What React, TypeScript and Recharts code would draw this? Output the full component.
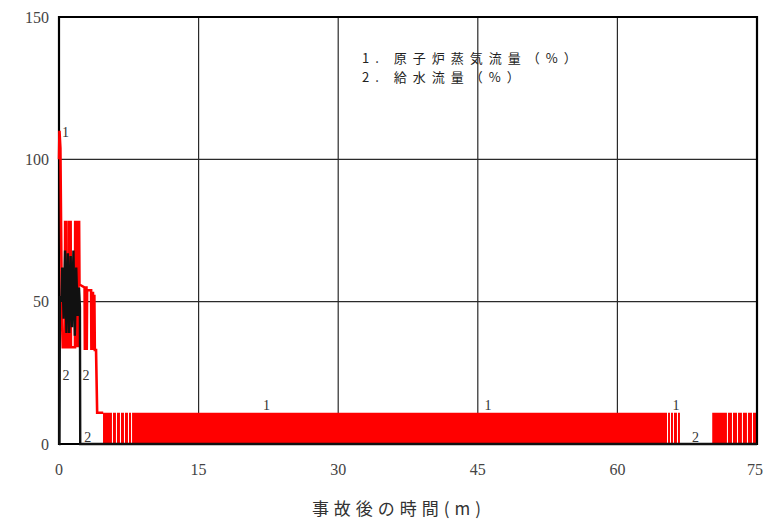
import React from 'react';
import {
  ComposedChart, Line, Area, XAxis, YAxis, CartesianGrid, ReferenceArea, ReferenceDot, Label,
} from 'recharts';

// 1. 原子炉蒸気流量 (%) – early transient (time in minutes, value in %)
const steamEarly = [
  { t: 0, v: 100 }, { t: 0.05, v: 110 }, { t: 0.15, v: 104 }, { t: 0.3, v: 48 }, { t: 0.4, v: 34 },
  { t: 0.64, v: 34 }, { t: 0.66, v: 78 }, { t: 0.8, v: 78 }, { t: 0.83, v: 34 },
  { t: 1.08, v: 34 }, { t: 1.1, v: 78 }, { t: 1.25, v: 78 }, { t: 1.28, v: 34 },
  { t: 1.72, v: 34 }, { t: 1.74, v: 78 }, { t: 1.82, v: 78 }, { t: 1.85, v: 34 },
  { t: 1.9, v: 78 }, { t: 1.97, v: 34 }, { t: 2.02, v: 78 }, { t: 2.08, v: 34 },
  { t: 2.1, v: 78 }, { t: 2.16, v: 78 }, { t: 2.2, v: 56 },
  { t: 2.75, v: 55 }, { t: 2.78, v: 33 }, { t: 2.82, v: 55 }, { t: 2.95, v: 55 },
  { t: 2.98, v: 33 }, { t: 3.02, v: 54 }, { t: 3.45, v: 54 }, { t: 3.48, v: 33 },
  { t: 3.52, v: 53 }, { t: 3.65, v: 53 }, { t: 3.68, v: 33 }, { t: 3.72, v: 52 },
  { t: 3.8, v: 52 }, { t: 3.85, v: 33 }, { t: 3.98, v: 33 }, { t: 4.1, v: 11 }, { t: 4.75, v: 11 },
];

// 1. 原子炉蒸気流量 (%) – dense cycling band (0 = white gap between cycles)
const steamBand = [
  { t: 4.73, v: 11 }, { t: 5.69, v: 0 }, { t: 5.8, v: 11 }, { t: 6.12, v: 0 }, { t: 6.23, v: 11 },
  { t: 6.55, v: 0 }, { t: 6.66, v: 11 }, { t: 6.98, v: 0 }, { t: 7.09, v: 11 }, { t: 7.41, v: 0 },
  { t: 7.52, v: 11 }, { t: 7.74, v: 0 }, { t: 7.85, v: 11 },
  { t: 65.33, v: 0 }, { t: 65.44, v: 11 }, { t: 65.65, v: 0 }, { t: 65.76, v: 11 },
  { t: 65.97, v: 0 }, { t: 66.08, v: 11 }, { t: 66.4, v: 0 }, { t: 66.51, v: 11 },
  { t: 66.72, v: 0 },
  { t: 70.19, v: 11 }, { t: 71.77, v: 0 }, { t: 71.88, v: 11 }, { t: 72.31, v: 0 }, { t: 72.42, v: 11 },
  { t: 72.85, v: 0 }, { t: 72.96, v: 11 }, { t: 73.38, v: 0 }, { t: 73.49, v: 11 },
  { t: 73.92, v: 0 }, { t: 74.03, v: 11 }, { t: 74.46, v: 0 }, { t: 74.57, v: 11 }, { t: 75, v: 11 },
];

// 2. 給水流量 (%)
const feedwater = [
  { t: 0, v: 0 }, { t: 0.05, v: 0 }, { t: 0.1, v: 52 }, { t: 0.25, v: 50 },
  { t: 0.35, v: 62 }, { t: 0.5, v: 44 }, { t: 0.65, v: 68 }, { t: 0.8, v: 39 },
  { t: 0.95, v: 67 }, { t: 1.1, v: 39 }, { t: 1.25, v: 66 }, { t: 1.4, v: 41 },
  { t: 1.55, v: 68 }, { t: 1.7, v: 38 }, { t: 1.85, v: 62 }, { t: 2.0, v: 45 },
  { t: 2.15, v: 55 }, { t: 2.25, v: 48 }, { t: 2.28, v: 0 }, { t: 75, v: 0 },
];

const xTicks = [0, 15, 30, 45, 60, 75];
const yTicks = [0, 50, 100, 150];

const curveMarks = [
  { t: 0.7, v: 109.6, label: '1' },
  { t: 22.3, v: 13.7, label: '1' },
  { t: 46.1, v: 13.7, label: '1' },
  { t: 66.3, v: 13.7, label: '1' },
  { t: 0.75, v: 24.2, label: '2' },
  { t: 2.9, v: 24.2, label: '2' },
  { t: 3.1, v: 2.5, label: '2' },
  { t: 68.4, v: 2.5, label: '2' },
];

const legendLines = ['1. 原子炉蒸気流量（%）', '2. 給水流量（%）'];

const serif = "'Liberation Serif', 'DejaVu Serif', serif";
const cjk = "'Noto Sans CJK JP', sans-serif";

export default function App() {
  return (
    <div style={{ position: 'absolute', left: 0, top: 0, width: 763, height: 524, background: '#fff' }}>
      <ComposedChart width={763} height={524} margin={{ top: 17, right: 6, bottom: 0, left: 0 }}>
        <CartesianGrid stroke="#2a2a2a" strokeWidth={1.2} />
        <XAxis
          dataKey="t" type="number" domain={[0, 75]} ticks={xTicks} height={80}
          axisLine={false} tickLine={false} tickMargin={14}
          tick={{ fill: '#444', fontSize: 16, fontFamily: serif }}
          allowDuplicatedCategory={false}
        >
          <Label
            value="事故後の時間(m)" position="insideBottom" offset={9} dx={-9}
            style={{ fill: '#333', fontSize: 17, fontFamily: cjk, letterSpacing: 5 }}
          />
        </XAxis>
        <YAxis
          type="number" domain={[0, 150]} ticks={yTicks} width={59}
          axisLine={false} tickLine={false} tickSize={0} tickMargin={10}
          tick={{ fill: '#444', fontSize: 16, fontFamily: serif }}
        />
        <Area
          data={steamBand} dataKey="v" type="stepAfter" stroke="none" fill="#ff0000"
          fillOpacity={1} isAnimationActive={false} dot={false} activeDot={false}
        />
        <Line
          data={steamEarly} dataKey="v" type="linear" stroke="#ff0000" strokeWidth={2.6}
          dot={false} activeDot={false} isAnimationActive={false}
        />
        <Line
          data={feedwater} dataKey="v" type="linear" stroke="#111" strokeWidth={2.4}
          dot={false} activeDot={false} isAnimationActive={false}
        />
        <ReferenceArea x1={0} x2={75} y1={0} y2={150} fill="none" stroke="#000" strokeWidth={2.2} />
        {curveMarks.map((m, i) => (
          <ReferenceDot
            key={i} x={m.t} y={m.v} r={1} fill="none" stroke="none"
            label={{ value: m.label, position: 'center', fill: '#333', fontSize: 14, fontFamily: serif }}
          />
        ))}
      </ComposedChart>
      <div
        style={{
          position: 'absolute', left: 362, top: 49, fontFamily: cjk, fontSize: 13,
          color: '#222', letterSpacing: 6, lineHeight: '18.5px', whiteSpace: 'pre',
        }}
      >
        {legendLines.map((s) => (
          <div key={s}>{s}</div>
        ))}
      </div>
    </div>
  );
}
